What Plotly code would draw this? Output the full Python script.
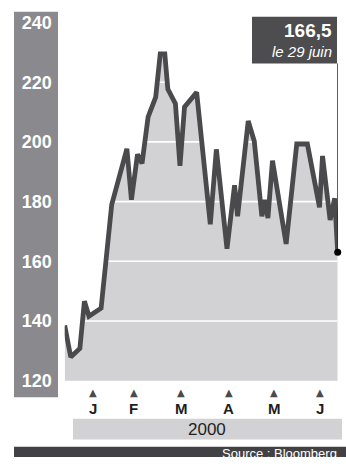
import plotly.graph_objects as go

# ---- data ----
dates = ["2000-01-01","2000-01-05","2000-01-11","2000-01-14","2000-01-17","2000-01-25",
         "2000-02-01","2000-02-11","2000-02-14","2000-02-18","2000-02-21","2000-02-25",
         "2000-03-01","2000-03-04","2000-03-07","2000-03-09","2000-03-14","2000-03-17",
         "2000-03-20","2000-03-28","2000-04-06","2000-04-10","2000-04-17","2000-04-22",
         "2000-04-24","2000-05-01","2000-05-05","2000-05-10","2000-05-12","2000-05-14",
         "2000-05-17","2000-05-26","2000-06-02","2000-06-09","2000-06-17","2000-06-19",
         "2000-06-24","2000-06-27","2000-06-29"]
values = [138.5,127.9,130.8,146.6,141.6,144.3,179,197.7,180.6,195.8,192.8,208.4,
          215,229.5,229.5,217.7,212.8,192,211.7,216.6,172.4,197.5,164.2,185.5,
          175.1,207,200.2,175.1,180.6,174.5,193.7,165.8,199.3,199.3,178.1,195.3,
          173.8,181.1,163]
y_ticks = [120, 140, 160, 180, 200, 220, 240]
month_ticks = ["2000-01-19 16:00","2000-02-15 16:00","2000-03-18","2000-04-18","2000-05-18","2000-06-17 08:00"]
month_labels = ["J", "F", "M", "A", "M", "J"]
year_label = "2000"
last_value_label = "166,5"
last_date_label = "le 29 juin"
source_label = "Source : Bloomberg"

W, H = 346, 467
FONT = "Liberation Sans, Arial, Helvetica, sans-serif"
LINE = "#4a4a4c"
FILL = "#d2d2d4"
BAND = "#8a8a8e"
DARK = "#4d4d4f"

def px(x):
    return x / W

def py(y):
    return 1 - y / H

plot_top, plot_bot = 12, 389
ppu = 3.05
y_range = [120, 120 + (plot_bot - plot_top) / ppu]

fig = go.Figure()

# gray area under the curve
fig.add_trace(go.Scatter(x=dates, y=values, fill="tozeroy", fillcolor=FILL,
                         mode="lines", line=dict(width=0), hoverinfo="skip"))
# white grid lines above the area
gx, gy = [], []
for t in y_ticks[1:]:
    gx += [dates[0], dates[-1], None]
    gy += [t, t, None]
fig.add_trace(go.Scatter(x=gx, y=gy, mode="lines", line=dict(color="white", width=1.6),
                         hoverinfo="skip"))
# main line
fig.add_trace(go.Scatter(x=dates, y=values, mode="lines",
                         line=dict(color=LINE, width=4.8), cliponaxis=False))
# end dot
fig.add_trace(go.Scatter(x=[dates[-1]], y=[values[-1]], mode="markers",
                         marker=dict(color="black", size=7), cliponaxis=False))

shapes = [
    # left band
    dict(type="rect", xref="paper", yref="paper", x0=px(14), x1=px(58), y0=py(406), y1=py(12),
         fillcolor=BAND, line=dict(width=0), layer="below"),
    # value box
    dict(type="rect", xref="paper", yref="paper", x0=px(252), x1=px(337), y0=py(65), y1=py(17),
         fillcolor=DARK, line=dict(width=0)),
    # connector line
    dict(type="line", xref="x", yref="paper", x0=dates[-1], x1=dates[-1], y0=py(65),
         y1=py(plot_bot - (values[-1] - 120) * ppu), line=dict(color="black", width=1.2)),
    # year bar
    dict(type="rect", xref="paper", yref="paper", x0=px(73), x1=px(342), y0=py(449), y1=py(428),
         fillcolor=FILL, line=dict(width=0)),
    # source bar
    dict(type="rect", xref="paper", yref="paper", x0=px(14), x1=px(346), y0=py(467), y1=py(456.5),
         fillcolor="#424244", line=dict(width=0)),
]

annotations = [
    dict(text=f"<b>{last_value_label}</b>", xref="paper", yref="paper", x=px(334), y=py(31),
         xanchor="right", yanchor="middle", showarrow=False,
         font=dict(family=FONT, size=19, color="white")),
    dict(text=f"<i>{last_date_label}</i>", xref="paper", yref="paper", x=px(334), y=py(53),
         xanchor="right", yanchor="middle", showarrow=False,
         font=dict(family=FONT, size=15, color="white")),
    dict(text=year_label, xref="paper", yref="paper", x=px(207), y=py(438.5),
         xanchor="center", yanchor="middle", showarrow=False,
         font=dict(family=FONT, size=17, color="#1e1e1e")),
    dict(text=source_label, xref="paper", yref="paper", x=px(339), y=py(463),
         xanchor="right", yanchor="middle", showarrow=False,
         font=dict(family=FONT, size=13, color="white")),
]
for d, lab in zip(month_ticks, month_labels):
    annotations.append(dict(text="▲", xref="x", yref="paper", x=d, y=py(401),
                            xanchor="center", yanchor="middle", showarrow=False,
                            font=dict(family="DejaVu Sans", size=10, color=LINE)))
    annotations.append(dict(text=f"<b>{lab}</b>", xref="x", yref="paper", x=d, y=py(417.5),
                            xanchor="center", yanchor="middle", showarrow=False,
                            font=dict(family=FONT, size=15, color="#1e1e1e")))

fig.update_layout(
    width=W, height=H, margin=dict(l=0, r=0, t=0, b=0),
    paper_bgcolor="white", plot_bgcolor="white", showlegend=False,
    shapes=shapes, annotations=annotations,
    xaxis=dict(domain=[px(64.7), px(337.7)], range=[dates[0], dates[-1]], type="date",
               showgrid=False, zeroline=False, showticklabels=False, ticks="", showline=False),
    yaxis=dict(domain=[py(plot_bot), py(plot_top)], range=y_range, tickvals=y_ticks,
               ticktext=[str(t) for t in y_ticks], showgrid=False, zeroline=False,
               ticks="", showline=False, ticklabelstandoff=12,
               tickfont=dict(family=FONT, size=18, color="white", weight="bold")),
)

fig.write_html("out.html")
